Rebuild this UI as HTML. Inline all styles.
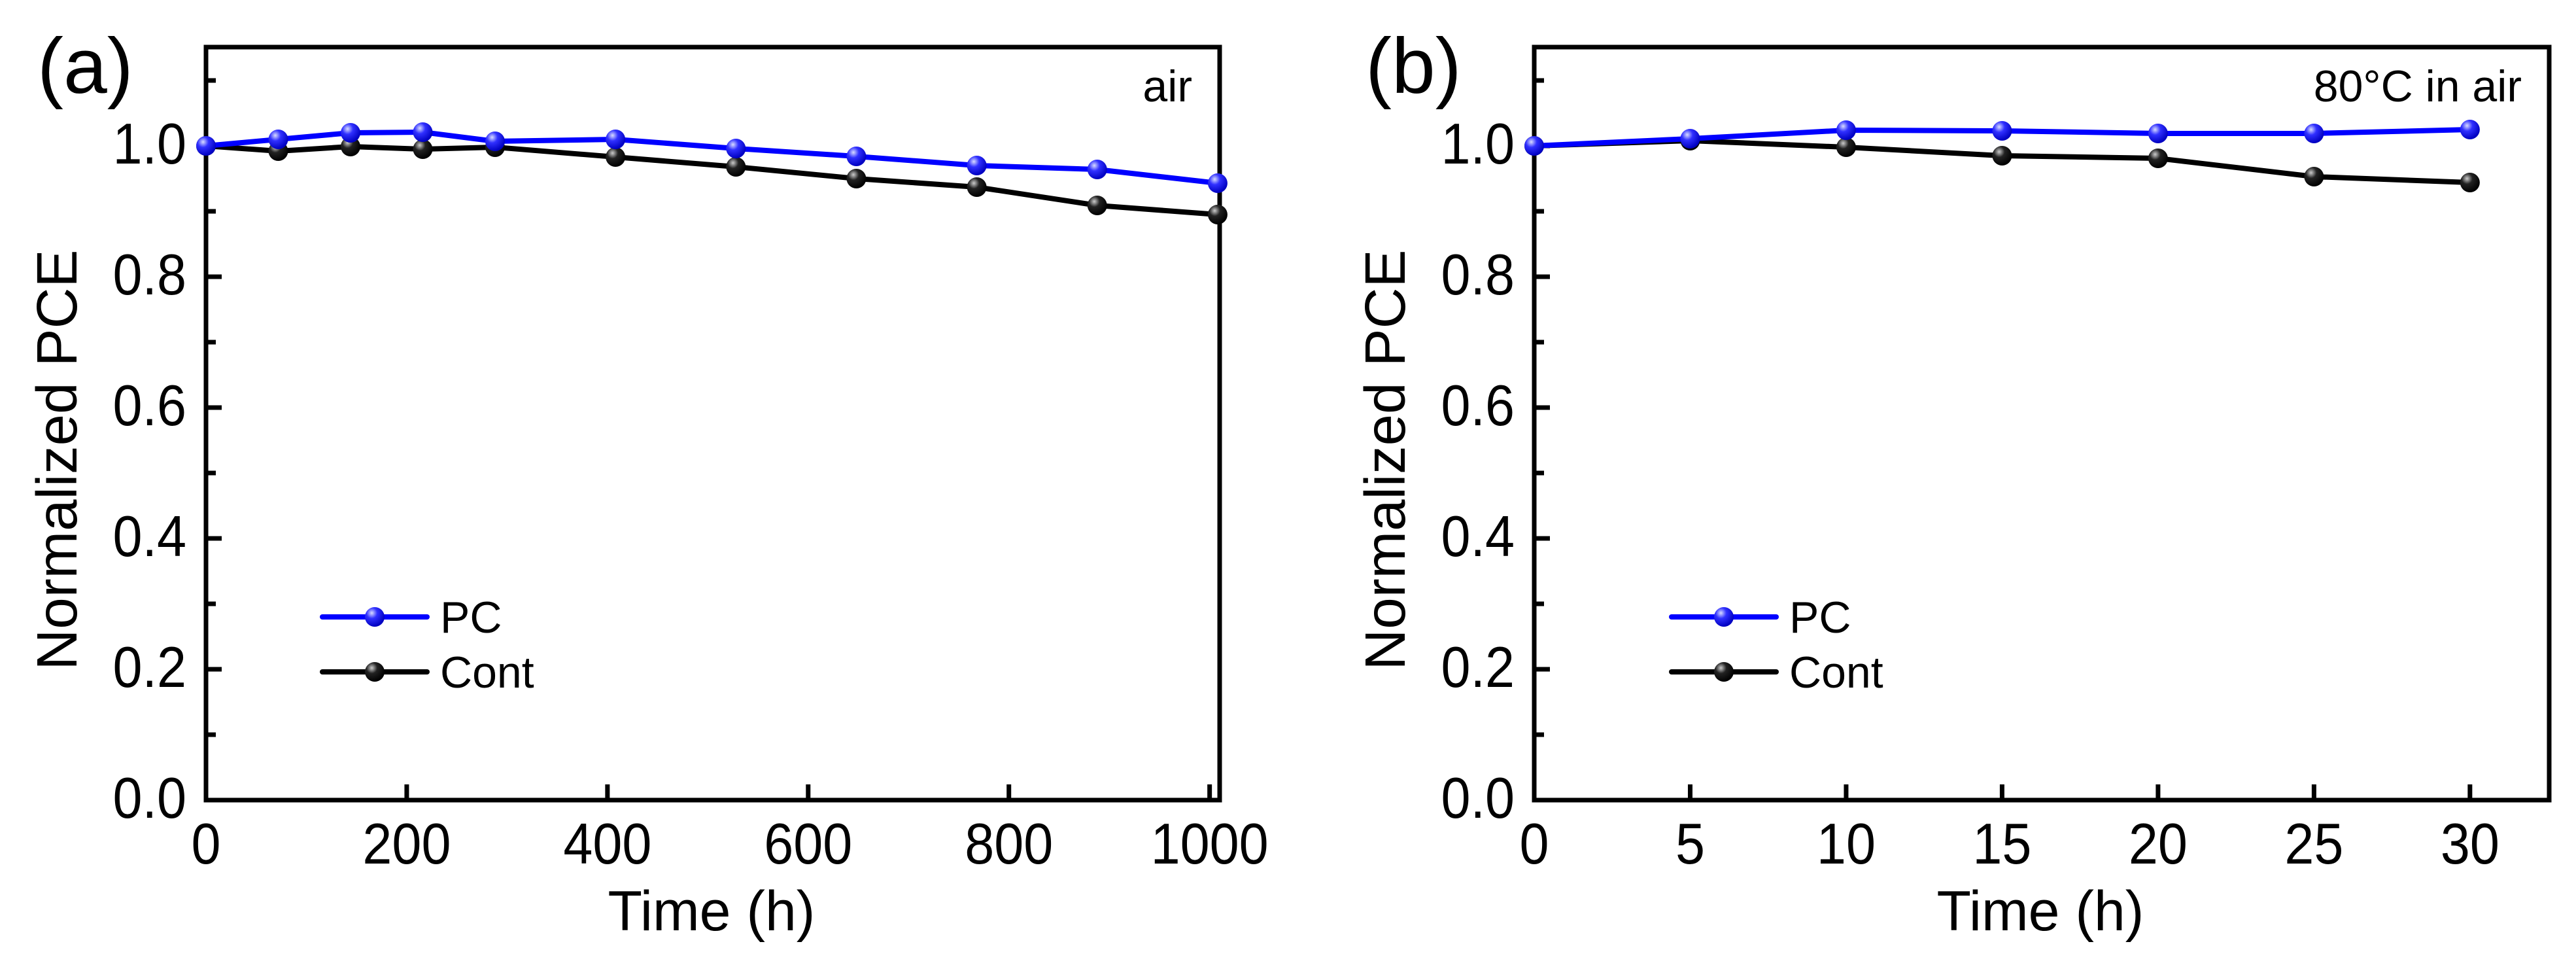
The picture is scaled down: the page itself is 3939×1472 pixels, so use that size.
<!DOCTYPE html>
<html><head><meta charset="utf-8"><style>
html,body{margin:0;padding:0;background:#fff;}
svg{display:block;font-family:"Liberation Sans",Arial,sans-serif;}
</style></head><body>
<svg id="fig" width="3939" height="1472" viewBox="0 0 3939 1472" xmlns="http://www.w3.org/2000/svg">
<defs>
<radialGradient id="gBlue" cx="0.35" cy="0.3" r="0.7"><stop offset="0" stop-color="#d8dcff"/><stop offset="0.4" stop-color="#3030ff"/><stop offset="1" stop-color="#0000c0"/></radialGradient>
<radialGradient id="gBlack" cx="0.35" cy="0.3" r="0.7"><stop offset="0" stop-color="#cccccc"/><stop offset="0.4" stop-color="#222"/><stop offset="1" stop-color="#000"/></radialGradient>
</defs>
</svg>
<script>
// Panel (a) data
const timeA = [0, 72, 144, 216, 288, 408, 528, 648, 768, 888, 1008];
const pcA   = [1.0, 1.010, 1.020, 1.021, 1.007, 1.010, 0.996, 0.984, 0.970, 0.964, 0.943];
const contA = [1.0, 0.992, 0.999, 0.995, 0.998, 0.983, 0.968, 0.950, 0.937, 0.909, 0.895];
const xTicksA = [0, 200, 400, 600, 800, 1000];
// Panel (b) data
const timeB = [0, 5, 10, 15, 20, 25, 30];
const pcB   = [1.0, 1.011, 1.024, 1.023, 1.019, 1.019, 1.025];
const contB = [1.0, 1.008, 0.998, 0.985, 0.981, 0.953, 0.944];
const xTicksB = [0, 5, 10, 15, 20, 25, 30];
const yTicks = [0.0, 0.2, 0.4, 0.6, 0.8, 1.0];
const yMinor = [0.1, 0.3, 0.5, 0.7, 0.9, 1.1];
const seriesNames = ["PC", "Cont"];

const NS = "http://www.w3.org/2000/svg";
const svg = document.getElementById("fig");
function mk(tag, attrs, parent, text){
  const e = document.createElementNS(NS, tag);
  for (const k in attrs) e.setAttribute(k, attrs[k]);
  if (text !== undefined) e.textContent = text;
  (parent||svg).appendChild(e);
  return e;
}

function panel(cfg){
  const g = mk("g", {});
  
  
  const L = cfg.left, R = cfg.right, T = 72, B = 1223;
  const yMax = 1.151;
  const sx = v => L + (v - cfg.xMin) / (cfg.xMax - cfg.xMin) * (R - L);
  const sy = v => B - v / yMax * (B - T);

  yTicks.forEach(v => {
    const t = mk("line", {x1:L, x2:L+24, y1:sy(v), y2:sy(v), stroke:"#000","stroke-width":7}, g);
    
    
    const lb = mk("text", {transform:"translate("+(L-30)+","+(sy(v)+27)+") scale(0.92,1)", "text-anchor":"end","font-size":88}, g, v.toFixed(1));
    
    
  });
  yMinor.forEach(v => {
    const t = mk("line", {x1:L, x2:L+15, y1:sy(v), y2:sy(v), stroke:"#000","stroke-width":7}, g);
    
    
  });
  cfg.xTicks.forEach(v => {
    const t = mk("line", {x1:sx(v), x2:sx(v), y1:B, y2:B-24, stroke:"#000","stroke-width":7}, g);
    
    
    const lb = mk("text", {transform:"translate("+sx(v)+",1320) scale(0.92,1)", "text-anchor":"middle","font-size":88}, g, String(v));
    
    
  });
  const fr = mk("rect", {x:L, y:T, width:R-L, height:B-T, fill:"none", stroke:"#000","stroke-width":7}, g);
  
  

  const series = [
    {vals: cfg.pc, color:"#0000ff", grad:"url(#gBlue)", name:"pc-series"},
    {vals: cfg.cont, color:"#000", grad:"url(#gBlack)", name:"cont-series"}
  ];
  [series[1], series[0]].forEach(s => {
    const pts = cfg.x.map((xv,i) => sx(xv)+","+sy(s.vals[i])).join(" ");
    const pl = mk("polyline", {points:pts, fill:"none", stroke:s.color, "stroke-width":8, "stroke-linejoin":"round"}, g);
    
    
    cfg.x.forEach((xv,i) => {
      const c = mk("circle", {cx:sx(xv), cy:sy(s.vals[i]), r:15, fill:s.grad}, g);
      
      
    });
  });

  const lg = mk("g", {}, g);
  
  
  [[943, series[0]], [1027, series[1]]].forEach(([y, s], i) => {
    const e = mk("g", {}, lg);
    
    
    mk("line", {x1:cfg.legX, x2:cfg.legX+160, y1:y, y2:y, stroke:s.color, "stroke-width":8, "stroke-linecap":"round"}, e);
    mk("circle", {cx:cfg.legX+80, cy:y, r:15, fill:s.grad}, e);
    mk("text", {x:cfg.legX+180, y:y+24, "font-size":68}, e, seriesNames[i]);
  });

  const xt = mk("text", {x:(L+R)/2 - 2, y:1422, "text-anchor":"middle","font-size":86}, g, "Time (h)");
  
  
  const yx = L - 198, yy = 703;
  const yt = mk("text", {x:yx, y:yy, "text-anchor":"middle","font-size":87, transform:"rotate(-90 "+yx+" "+yy+")"}, g, "Normalized PCE");
  
  
  const pl = mk("text", {x:L-258, y:142, "font-size":120}, g, cfg.label);
  
  
  const an = mk("text", {x:R-42, y:155, "text-anchor":"end","font-size":68}, g, cfg.note);
  
  
}

panel({name:"panel-a", left:315, right:1865, xMin:0, xMax:1010, xTicks:xTicksA, x:timeA, pc:pcA, cont:contA, legX:493, label:"(a)", note:"air"});
panel({name:"panel-b", left:2346, right:3898, xMin:0, xMax:32.54, xTicks:xTicksB, x:timeB, pc:pcB, cont:contB, legX:2556, label:"(b)", note:"80°C in air"});
</script>
</body></html>
